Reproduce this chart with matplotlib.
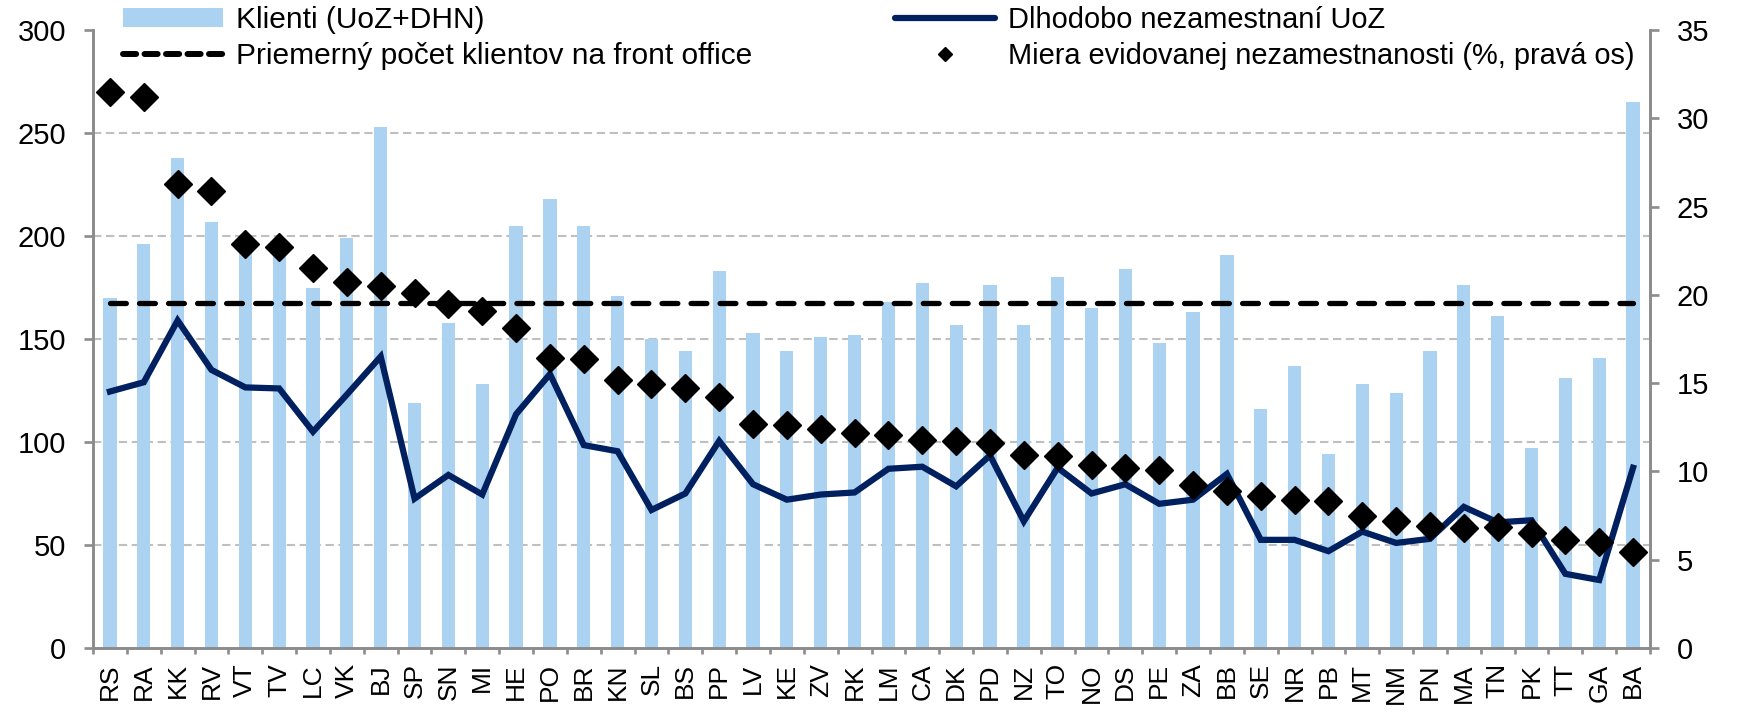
import matplotlib
matplotlib.use("Agg")
import matplotlib.pyplot as plt
from matplotlib.lines import Line2D
from matplotlib.patches import Patch
import numpy as np

plt.rcParams['font.family'] = ['Liberation Sans', 'DejaVu Sans']

categories = ["RS", "RA", "KK", "RV", "VT", "TV", "LC", "VK", "BJ", "SP", "SN", "MI",
              "HE", "PO", "BR", "KN", "SL", "BS", "PP", "LV", "KE", "ZV", "RK", "LM",
              "CA", "DK", "PD", "NZ", "TO", "NO", "DS", "PE", "ZA", "BB", "SE", "NR",
              "PB", "MT", "NM", "PN", "MA", "TN", "PK", "TT", "GA", "BA"]

klienti = [170, 196, 238, 207, 196, 194, 175, 199, 253, 119, 158, 128,
           205, 218, 205, 171, 150, 144, 183, 153, 144, 151, 152, 168,
           177, 157, 176, 157, 180, 165, 184, 148, 163, 191, 116, 137,
           94, 128, 124, 144, 176, 161, 97, 131, 141, 265]

dlhodobo = [124.5, 129, 159, 135, 126.5, 126, 105, 123, 141.5, 72.5, 84, 74.5,
            113.5, 133, 98.5, 95.5, 67, 75, 100.5, 79.5, 72, 74.5, 75.5, 87,
            88, 78.5, 93.5, 61.5, 87.5, 75, 79.5, 70, 72, 84.5, 52.5, 52.5,
            47, 56.5, 51, 53, 68.5, 61, 62, 36, 33, 87.5]

priemer = 167.5

miera = [31.5, 31.2, 26.3, 25.9, 22.9, 22.7, 21.5, 20.7, 20.5, 20.1, 19.5, 19.1,
         18.1, 16.4, 16.35, 15.2, 14.95, 14.7, 14.2, 12.7, 12.65, 12.4, 12.2, 12.05,
         11.8, 11.7, 11.6, 10.95, 10.85, 10.35, 10.2, 10.1, 9.25, 8.9, 8.6, 8.4,
         8.3, 7.5, 7.2, 6.9, 6.8, 6.85, 6.5, 6.1, 6.0, 5.45]

left_ticks = [0, 50, 100, 150, 200, 250, 300]
right_ticks = [0, 5, 10, 15, 20, 25, 30, 35]

BAR_C = '#ABD3F1'
NAVY = '#002060'
SPINE_C = '#8C8C8C'
GRID_C = '#BFBFBF'

W, H = 1739, 713
fig = plt.figure(figsize=(W / 100, H / 100), dpi=100)
ax = fig.add_axes([93 / W, 1 - 648 / H, (1650 - 93) / W, (648 - 30) / H])

x = np.arange(len(categories))
ax.bar(x, klienti, width=0.39, color=BAR_C, zorder=2)
ax.plot(x, dlhodobo, color=NAVY, lw=4.5, solid_joinstyle='miter', zorder=3)
ax.plot(x, [priemer] * len(x), color='black', lw=3.8,
        dashes=(3.0, 2.5), dash_capstyle='round', zorder=3)

ax.set_xlim(-0.5, len(x) - 0.5)
ax.set_ylim(0, 300)
ax.set_yticks(left_ticks)
ax.set_axisbelow(True)
ax.yaxis.grid(True, color=GRID_C, lw=1.5, dashes=(4, 2.2))
for gl, v in zip(ax.get_ygridlines(), left_ticks):
    if v in (0, 300):
        gl.set_visible(False)

ax.set_xticks(x)
ax.set_xticklabels(categories, rotation=90, fontsize=19)
ax.set_xticks(np.arange(-0.5, len(x) + 0.5, 1), minor=True)
ax.tick_params(axis='x', which='major', length=0, pad=11)
ax.tick_params(axis='x', which='minor', length=4.5, width=1.9, color=SPINE_C, direction='out')
ax.tick_params(axis='y', which='major', length=6.3, width=1.9, color=SPINE_C,
               labelsize=21, pad=13)

ax.spines['top'].set_visible(False)
for s in ['left', 'bottom', 'right']:
    ax.spines[s].set_color(SPINE_C)
    ax.spines[s].set_linewidth(1.9)

ax2 = ax.twinx()
ax2.plot(x, miera, linestyle='none', marker='D', markersize=14.3,
         color='black', zorder=4)
ax2.set_ylim(0, 35)
ax2.set_yticks(right_ticks)
ax2.tick_params(axis='y', length=6.3, width=1.9, color=SPINE_C, labelsize=21, pad=13)
ax2.spines['top'].set_visible(False)
for s in ['left', 'bottom', 'right']:
    ax2.spines[s].set_color(SPINE_C)
    ax2.spines[s].set_linewidth(1.9)

h_bar = Patch(facecolor=BAR_C, edgecolor='none')
h_line = Line2D([], [], color=NAVY, lw=4.5, solid_capstyle='round')
h_avg = Line2D([], [], color='black', lw=4.3, dashes=(2.2, 1.4), dash_capstyle='round')
h_dia = Line2D([], [], color='black', linestyle='none', marker='D', markersize=7.5)

leg = fig.legend([h_bar, h_avg, h_line, h_dia],
                 ["Klienti (UoZ+DHN)", "Priemerný počet klientov na front office",
                  "Dlhodobo nezamestnaní UoZ", "Miera evidovanej nezamestnanosti (%, pravá os)"],
                 ncol=2, loc='upper left', bbox_to_anchor=(123 / W, 1 - 6 / H),
                 frameon=False, fontsize=21.5, handlelength=3.35, handleheight=0.6,
                 handletextpad=0.42, columnspacing=4.8, labelspacing=0.28,
                 borderpad=0, borderaxespad=0)
for t in leg.get_texts()[2:]:
    t.set_fontsize(20.9)

fig.savefig('out.png', dpi=100)
